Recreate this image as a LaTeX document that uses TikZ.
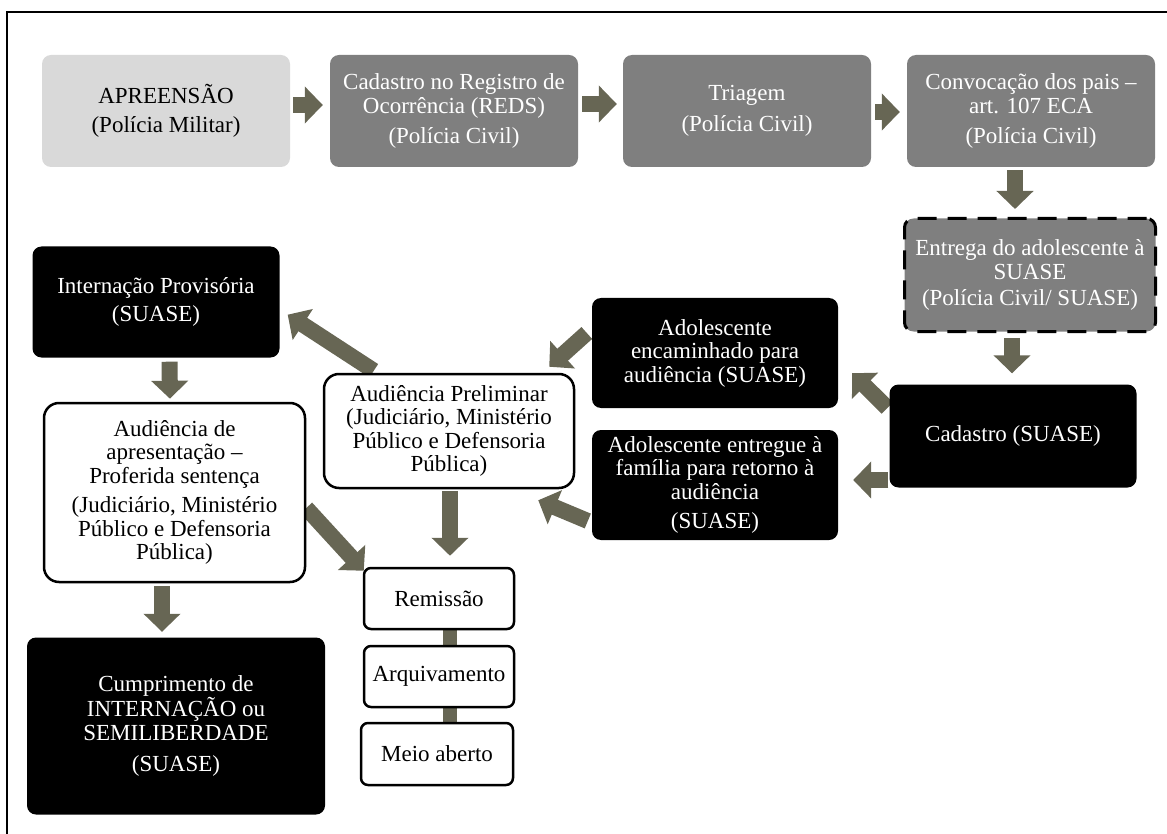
\documentclass[tikz,border=0pt]{standalone}
\usepackage{fontspec}
\setmainfont{Liberation Serif}
\usetikzlibrary{arrows.meta,backgrounds}
\definecolor{arrowc}{RGB}{103,102,84}
\definecolor{lightbox}{RGB}{217,217,217}
\definecolor{midbox}{RGB}{127,127,127}
\tikzset{
  base/.style={rounded corners=9pt, align=center, inner sep=0pt,
    font=\fontsize{23}{23.5}\selectfont},
  lightnode/.style={base, fill=lightbox, text=black},
  graynode/.style={base, fill=midbox, text=white},
  dashnode/.style={base, fill=midbox, text=white, draw=black, line width=3pt,
    dash pattern=on 19pt off 11pt},
  blacknode/.style={base, fill=black, text=white},
  whitenode/.style={base, fill=white, draw=black, line width=2.5pt, rounded corners=15pt},
  smallwhite/.style={base, fill=white, draw=black, line width=2.5pt, rounded corners=7pt},
  bigarrow/.style={draw=arrowc, line width=16pt,
    -{Triangle[length=18pt,width=36pt,fill=arrowc]}},
  linkbar/.style={draw=arrowc, line width=14pt},
}
\begin{document}
\begin{tikzpicture}[x=1pt,y=-1pt]
\useasboundingbox (0,0) rectangle (1167,834);
\draw[line width=2.5pt] (7,900) -- (7,12) -- (1200,12);

% top row
\node[lightnode, minimum width=248pt, minimum height=112pt] (b1) at (166,111)
  {APREENSÃO\\[6pt](Polícia Militar)};
\node[graynode, minimum width=248pt, minimum height=112pt] (b2) at (454,111)
  {Cadastro no Registro de\\Ocorrência (REDS)\\[7pt](Polícia Civil)};
\node[graynode, minimum width=248pt, minimum height=112pt] (b3) at (747,111)
  {Triagem\\[8pt](Polícia Civil)};
\node[graynode, minimum width=248pt, minimum height=112pt] (b4) at (1031,111)
  {Convocação dos pais –\\art. 107 ECA\\[7pt](Polícia Civil)};

% right column
\node[dashnode, minimum width=251pt, minimum height=113pt] (entrega) at (1030,275)
  {Entrega do adolescente à\\SUASE\\[3pt](Polícia Civil/ SUASE)};
\node[blacknode, minimum width=247pt, minimum height=103pt] (cad) at (1013,436)
  {Cadastro (SUASE)};

% middle
\node[blacknode, minimum width=246pt, minimum height=110pt] (enc) at (715,353)
  {Adolescente\\encaminhado para\\audiência (SUASE)};
\node[blacknode, minimum width=246pt, minimum height=110pt] (ent) at (715,485)
  {Adolescente entregue à\\família para retorno à\\audiência\\[6pt](SUASE)};
\node[whitenode, minimum width=250pt, minimum height=114pt] (prelim) at (449,431)
  {Audiência Preliminar\\(Judiciário, Ministério\\Público e Defensoria\\Pública)};

% left column
\node[blacknode, minimum width=247pt, minimum height=111pt] (intern) at (156,302)
  {Internação Provisória\\[4pt](SUASE)};
\node[whitenode, minimum width=261pt, minimum height=179pt] (apres) at (174.5,492.5)
  {Audiência de\\apresentação –\\Proferida sentença\\[6pt](Judiciário, Ministério\\Público e Defensoria\\Pública)};
\node[blacknode, minimum width=298pt, minimum height=177pt] (cump) at (176,726)
  {Cumprimento de\\INTERNAÇÃO ou\\SEMILIBERDADE\\[8pt](SUASE)};

% outcomes
\node[smallwhite, minimum width=150pt, minimum height=61pt] (rem) at (439,598.5) {Remissão};
\node[smallwhite, minimum width=150pt, minimum height=61pt] (arq) at (439,676.5) {Arquivamento};
\node[smallwhite, minimum width=152pt, minimum height=62pt] (meio) at (437,754) {Meio aberto};

\begin{scope}[on background layer]
\draw[bigarrow] ([shift={(3,-6)}]b1.east) -- ([shift={(-7,-6)}]b2.west);
\draw[bigarrow] ([shift={(4,-7)}]b2.east) -- ([shift={(-6,-7)}]b3.west);
\draw[bigarrow] ([shift={(4,1)}]b3.east) -- ([shift={(-7,1)}]b4.west);
\draw[bigarrow] ([shift={(-16,3)}]b4.south) -- ([shift={(-15,-8)}]entrega.north);
\draw[bigarrow] ([shift={(-18,5)}]entrega.south) -- ([shift={(-1,-11)}]cad.north);
\draw[bigarrow] ([shift={(-2,-28)}]cad.west) -- ([shift={(14,-35)}]enc.south east);
\draw[bigarrow] ([shift={(-1,44)}]cad.west) -- ([shift={(15,-5)}]ent.east);
\draw[bigarrow] ([shift={(-5,-20)}]enc.west) -- ([shift={(-26,-6)}]prelim.north east);
\draw[bigarrow] ([shift={(-4,36)}]ent.west) -- ([shift={(-37,11)}]prelim.south east);
\draw[bigarrow] ([shift={(51,-2)}]prelim.north west) -- ([shift={(8,-43)}]intern.south east);
\draw[bigarrow] ([shift={(1,2)}]prelim.south) -- ([shift={(11,-11)}]rem.north);
\draw[bigarrow] ([shift={(0,15.5)}]apres.east) -- ([shift={(1,4)}]rem.north west);
\draw[bigarrow] ([shift={(13.5,4)}]intern.south) -- ([shift={(-4.5,-3)}]apres.north);
\draw[bigarrow] ([shift={(-12.5,3)}]apres.south) -- ([shift={(-14,-5.5)}]cump.north);
\draw[linkbar] ([xshift=11pt]rem.south) -- ([xshift=11pt]arq.north);
\draw[linkbar] ([xshift=11pt]arq.south) -- ([xshift=13pt]meio.north);
\end{scope}
\end{tikzpicture}
\end{document}
